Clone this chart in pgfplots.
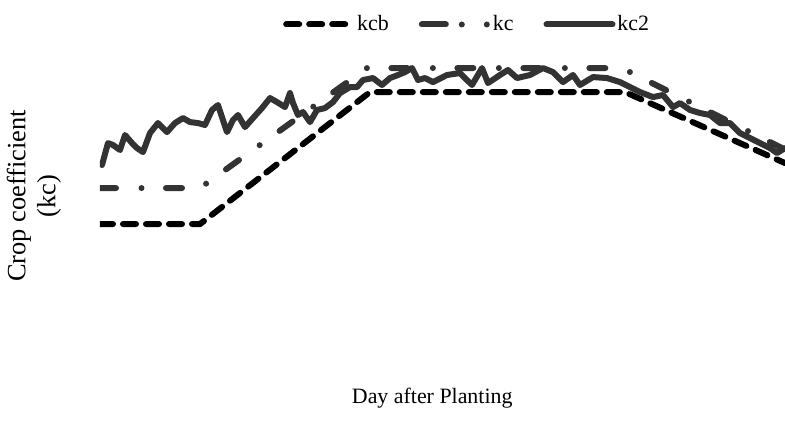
\documentclass[border=0pt,11pt]{standalone}
\usepackage{fontspec}
\setmainfont{Liberation Serif}
\usepackage{pgfplots}
\pgfplotsset{compat=1.18}
\definecolor{dk}{HTML}{333333}
\begin{document}
\begin{tikzpicture}
\begin{axis}[
  scale only axis,
  width=342.5pt, height=152.5pt,
  xmin=0, xmax=137, ymin=-0.829, ymax=1.367,
  axis line style={draw=none},
  xtick=\empty, ytick=\empty,
  xlabel={Day after Planting},
  ylabel={Crop coefficient\\(kc)},
  xlabel style={at={(axis description cs:0.485,-0.125)}, anchor=center},
  ylabel style={at={(axis description cs:-0.0965,0.538)}, anchor=center, align=center,
    font=\fontsize{13.2}{15}\selectfont},
  legend columns=3,
  legend style={draw=none, fill=none, at={(axis description cs:0.536,1.10)}, anchor=center,
    nodes={inner xsep=1pt},
    /tikz/every even column/.append style={column sep=14pt}},
  legend image code/.code={\draw[#1] (0pt,0pt) -- (33pt,0pt);},
]
\addplot[black, line width=3pt, line cap=round, dash pattern=on 6.5pt off 5pt]
coordinates {(0,0.15) (20,0.15) (54,1.10) (105,1.10) (137,0.589)};
\addlegendentry{kcb}
\addplot[dk, line width=3pt, line cap=round, dash pattern=on 8pt off 12.75pt on 0pt off 12.25pt,
  legend image code/.code={\draw[dk, line width=3pt, line cap=round,
     dash pattern=on 12pt off 8pt on 0pt off 12.5pt on 0pt off 100pt] (0pt,0pt) -- (33pt,0pt);}]
coordinates {(0,0.409) (20,0.409) (53.4,1.273) (104.4,1.273) (137,0.686)};
\addlegendentry{kc}
\addplot[dk, line width=3pt, line cap=round, line join=round]
coordinates {
(0.4,0.575) (1.6,0.733) (2.6,0.719) (4.0,0.683) (5.0,0.791) (6.4,0.733) (7.4,0.697)
(8.6,0.668) (10.0,0.805) (11.6,0.877) (13.4,0.812) (15.0,0.877) (16.6,0.913) (18.0,0.884)
(19.6,0.877) (21.0,0.863) (22.4,0.971) (23.6,1.007) (25.4,0.812) (26.6,0.899) (27.6,0.935)
(29.0,0.848) (30.6,0.913) (32.4,0.985) (34.0,1.057) (35.4,1.028) (37.0,0.992) (38.0,1.093)
(38.6,1.021) (39.6,0.935) (40.6,0.956) (42.0,0.884) (43.4,0.971) (45.0,0.985) (46.6,1.028)
(48.0,1.093) (50.0,1.136) (51.4,1.136) (52.6,1.187) (54.6,1.201) (56.4,1.151) (58.0,1.201)
(59.6,1.223) (61.0,1.244) (62.4,1.273) (63.6,1.187) (65.0,1.201) (66.6,1.172) (69.4,1.223)
(72.0,1.237) (74.4,1.151) (76.4,1.273) (77.6,1.165) (80.0,1.223) (81.6,1.259) (83.4,1.201)
(86.0,1.223) (88.6,1.273) (90.6,1.244) (92.6,1.172) (94.6,1.223) (96.0,1.151) (98.6,1.208)
(101.4,1.201) (104.0,1.172) (106.0,1.136) (108.0,1.100) (110.6,1.064) (112.6,1.079)
(114.6,0.992) (116.0,1.021) (118.0,0.971) (120.0,0.949) (122.0,0.935) (124.0,0.877)
(126.0,0.877) (128.0,0.805) (130.0,0.769) (132.0,0.733) (134.0,0.697) (135.4,0.661) (137.0,0.697)
};
\addlegendentry{kc2}
\end{axis}
\pgfresetboundingbox
\path (current axis.south west) ++(-50pt,-37pt) rectangle ++(392.5pt,217pt);
\end{tikzpicture}
\end{document}
